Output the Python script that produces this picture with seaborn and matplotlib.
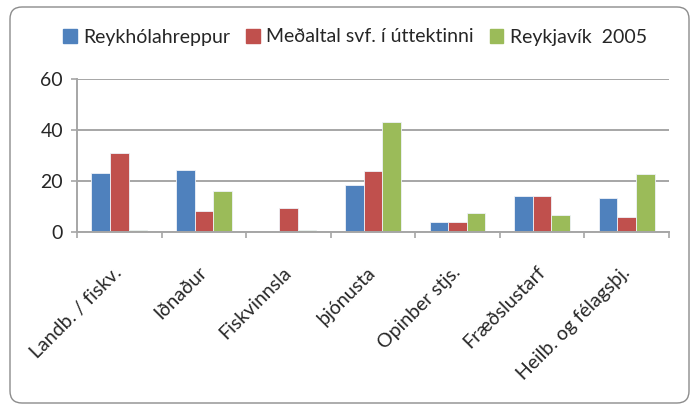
import numpy as np
import pandas as pd
import matplotlib
matplotlib.use("Agg")
import matplotlib.pyplot as plt
import seaborn as sns
from matplotlib.patches import FancyBboxPatch
from matplotlib.transforms import IdentityTransform

# --- data ---
categories = ["Landb. / fiskv.", "Iðnaður", "Fiskvinnsla", "þjónusta",
              "Opinber stjs.", "Fræðslustarf", "Heilb. og félagsþj."]
series_names = ["Reykhólahreppur", "Meðaltal svf. í úttektinni", "Reykjavík  2005"]
reykholahreppur = [23.3, 24.4, 0.0, 18.3, 4.0, 14.0, 13.4]
medaltal = [31.0, 8.4, 9.6, 23.9, 4.0, 14.0, 5.7]
reykjavik = [0.8, 16.1, 0.8, 43.3, 7.3, 6.8, 22.7]
y_ticks = [0, 20, 40, 60]

colors = ["#4F81BD", "#C0504D", "#9BBB59"]
grid_col = "#A6A6A6"

df = pd.DataFrame({
    "Flokkur": categories * 3,
    "Gildi": reykholahreppur + medaltal + reykjavik,
    "Röð": [s for s in series_names for _ in categories],
})

sns.set_style("white")
plt.rcParams["font.family"] = ["Lato", "DejaVu Sans"]

fig = plt.figure(figsize=(6.94, 4.07), dpi=100)
ax = fig.add_axes([77 / 694, 1 - 232 / 407, (669 - 77) / 694, (232 - 79) / 407])

sns.barplot(data=df, x="Flokkur", y="Gildi", hue="Röð", order=categories,
            hue_order=series_names, palette=colors, saturation=1, width=0.66,
            edgecolor="#EEF2F8", linewidth=0.6, ax=ax)

ax.set_ylim(0, 60)
ax.set_xlim(-0.5, len(categories) - 0.5)
ax.set_yticks(y_ticks)
ax.set_xlabel("")
ax.set_ylabel("")
ax.yaxis.grid(True, color=grid_col, linewidth=1.4)
ax.set_axisbelow(True)

for side in ["top", "right"]:
    ax.spines[side].set_visible(False)
for side in ["left", "bottom"]:
    ax.spines[side].set_color(grid_col)
    ax.spines[side].set_linewidth(1.4)

ax.tick_params(axis="y", which="major", length=4, width=1.2, color=grid_col,
               direction="out", labelsize=14, pad=6, left=True)
ax.set_xticks(np.arange(len(categories)))
ax.set_xticks(np.arange(len(categories) + 1) - 0.5, minor=True)
ax.tick_params(axis="x", which="minor", length=4, width=1.2, color=grid_col,
               direction="out", bottom=True)
ax.tick_params(axis="x", which="major", length=0, pad=27, labelsize=14)
for lbl in ax.get_xticklabels():
    lbl.set_rotation(45)
    lbl.set_ha("right")
    lbl.set_va("center")
    lbl.set_rotation_mode("anchor")

ax.get_legend().remove()
handles = [plt.Rectangle((0, 0), 1, 1, color=c) for c in colors]
fig.legend(handles, series_names, loc="center", bbox_to_anchor=(355 / 694, 1 - 37 / 407),
           ncol=3, frameon=False, fontsize=14, handlelength=0.7, handleheight=0.7,
           handletextpad=0.35, columnspacing=0.8)

# rounded outer border like the spreadsheet chart area
border = FancyBboxPatch((10, 4), 679, 396, boxstyle="round,pad=0,rounding_size=12",
                        transform=IdentityTransform(), facecolor="none",
                        edgecolor="#8C8C8C", linewidth=1.0)
fig.patches.append(border)

fig.savefig("out.png", dpi=100)
